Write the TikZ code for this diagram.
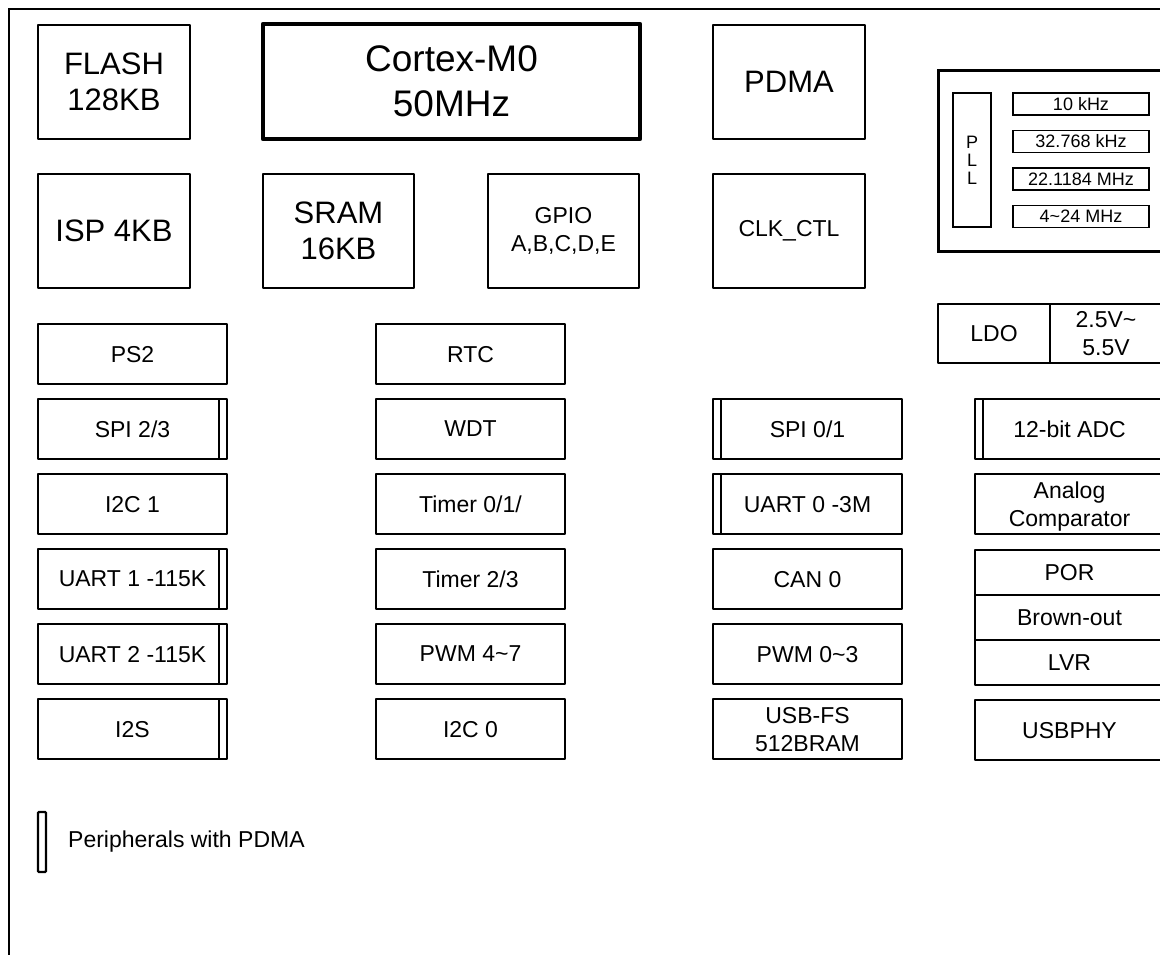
\documentclass[tikz,border=0pt]{standalone}
\usepackage{fontspec}
\setmainfont{Liberation Sans}
\newcommand\mfnt{\fontsize{23}{28}\selectfont}
\newcommand\lfnt{\fontsize{31}{36}\selectfont}
\newcommand\xlfnt{\fontsize{37}{45}\selectfont}
\newcommand\sfnt{\fontsize{18}{18}\selectfont}
\begin{document}
\begin{tikzpicture}[x=1pt,y=-1pt,
  box/.style={draw, line width=2.3pt, line join=round, outer sep=0pt, anchor=north west, minimum width=189pt, minimum height=60pt, inner sep=0pt, align=center, font=\mfnt, text depth=0pt},
  big/.style={draw, line width=2.5pt, line join=round, outer sep=0pt, anchor=north west, minimum width=152pt, minimum height=114pt, inner sep=0pt, align=center, font=\lfnt},
  cpubox/.style={draw, line width=4.5pt, line join=round, outer sep=0pt, anchor=north west, minimum width=377pt, minimum height=115pt, inner sep=0pt, align=center, font=\xlfnt},
  freq/.style={draw, line width=1.3pt, outer sep=0pt, anchor=north west, minimum width=136pt, minimum height=22pt, inner sep=0pt, font=\sfnt},
  barline/.style={line width=2pt},
  frameline/.style={line width=1.2pt}
]
\useasboundingbox (0,0) rectangle (1160,954);
\clip (0,0) rectangle (1160,954);

% outer frame
\coordinate (frtr) at (1170,9);
\coordinate (frtl) at (9,9);
\coordinate (frbl) at (9,965);
\draw[frameline] (frtr) -- (frtl) -- (frbl);

\begin{scope}[shift={(1,1)}]
% top blocks
\node[big] (flash) at (37,24) {FLASH\\128KB};
\node[cpubox] (cpu) at (262,23) {Cortex-M0\\50MHz};
\node[big] (pdma) at (712,24) {PDMA};
\node[big] (isp) at (37,173) {ISP 4KB};
\node[big, minimum width=151pt] (sram) at (262,173) {SRAM\\16KB};
\node[big, minimum width=151pt, font=\mfnt] (gpio) at (487,173) {GPIO\\A,B,C,D,E};
\node[big, font=\mfnt] (clk) at (712,173) {CLK\_CTL};

% clock sources
\node[draw, line width=3pt, outer sep=0pt, anchor=north west, minimum width=250pt, minimum height=181pt, inner sep=0pt] (clkfr) at (937,69) {};
\node[draw, line width=1.3pt, outer sep=0pt, anchor=north west, minimum width=38pt, minimum height=134pt, inner sep=0pt, align=center, font=\sfnt] (pll) at (952,92) {P\\L\\L};
\node[freq] (f1) at (1012,92) {10 kHz};
\node[freq] (f2) at (1012,129.5) {32.768 kHz};
\node[freq] (f3) at (1012,167) {22.1184 MHz};
\node[freq] (f4) at (1012,204.5) {4\textasciitilde 24 MHz};

% LDO
\node[box, minimum width=112pt, minimum height=59pt] (ldo) at (937,303) {LDO};
\node[box, minimum width=112pt, minimum height=59pt] (vin) at (ldo.north east) {2.5V\textasciitilde\\5.5V};

% left column
\node[box] (ps2) at (37,323) {PS2};
\node[box] (spi23) at (37,398) {SPI 2/3};
\node[box] (i2c1) at (37,473) {I2C 1};
\node[box] (uart1) at (37,548) {UART 1 -115K};
\node[box] (uart2) at (37,623) {UART 2 -115K};
\node[box] (i2s) at (37,698) {I2S};

% middle column
\node[box] (rtc) at (375,323) {RTC};
\node[box] (wdt) at (375,398) {WDT};
\node[box] (tmr01) at (375,473) {Timer 0/1/};
\node[box] (tmr23) at (375,548) {Timer 2/3};
\node[box] (pwm47) at (375,623) {PWM 4\textasciitilde 7};
\node[box] (i2c0) at (375,698) {I2C 0};

% right-middle column
\node[box] (spi01) at (712,398) {SPI 0/1};
\node[box] (uart0) at (712,473) {UART 0 -3M};
\node[box] (can0) at (712,548) {CAN 0};
\node[box] (pwm03) at (712,623) {PWM 0\textasciitilde 3};
\node[box] (usbfs) at (712,698) {USB-FS\\512BRAM};

% right column
\node[box] (adc) at (974,398) {12-bit ADC};
\node[box] (acmp) at (974,473) {Analog\\Comparator};
\node[box, minimum height=45pt] (por) at (974,549) {POR};
\node[box, minimum height=45pt] (bod) at (974,594) {Brown-out};
\node[box, minimum height=45pt] (lvr) at (974,639) {LVR};
\node[box] (usbphy) at (974,699) {USBPHY};

% PDMA bars
\foreach \n in {spi23,uart1,uart2,i2s}
  \draw[barline] ([xshift=-8pt]\n.north east) -- ([xshift=-8pt]\n.south east);
\foreach \n in {spi01,uart0,adc}
  \draw[barline] ([xshift=8pt]\n.north west) -- ([xshift=8pt]\n.south west);

% legend
\node[draw, line width=2.3pt, outer sep=0pt, anchor=north west, minimum width=8pt, minimum height=60pt, inner sep=0pt, rounded corners=1pt] (legbar) at (37,811) {};
\node[anchor=west, inner sep=0pt, font=\mfnt] (legtext) at (67,841) {Peripherals with PDMA};
\end{scope}
\end{tikzpicture}
\end{document}
